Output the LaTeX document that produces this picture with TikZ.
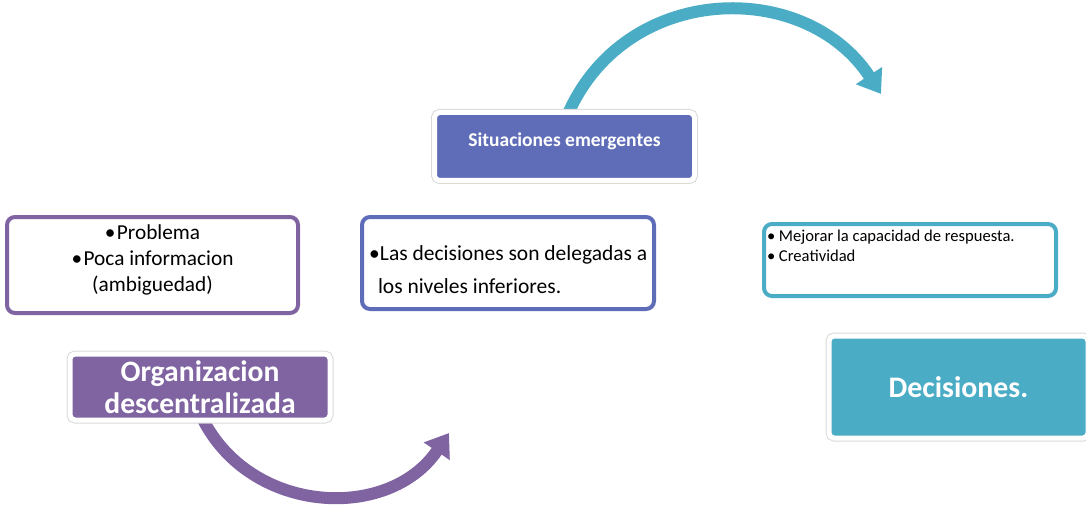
\documentclass[tikz,border=0pt]{standalone}
\usepackage{fontspec}
\setmainfont{Carlito}
\usetikzlibrary{arrows.meta,backgrounds}
\definecolor{cpurple}{HTML}{8064A2}
\definecolor{cblue}{HTML}{5F6DB8}
\definecolor{cteal}{HTML}{4BACC6}
\definecolor{crim}{HTML}{D9D9D9}
\begin{document}
\begin{tikzpicture}[x=1pt,y=-1pt,
  fillbox/.style={rounded corners=5pt, draw=white, line width=5pt,
    preaction={draw=crim, line width=7pt}, inner sep=0pt, text=white, align=center},
  linebox/.style={rounded corners=8pt, line width=4pt, fill=white, inner sep=0pt},
  bigarrow/.style={line width=12pt, -{Triangle[width=30pt,length=22pt]}}
]
\useasboundingbox (0,0) rectangle (1086,505);

\node[linebox, draw=cpurple, minimum width=291pt, minimum height=96pt] (prob) at (152.5,265)
  {\parbox[c][90pt][t]{285pt}{\centering\fontsize{21.3}{26}\selectfont\rule{0pt}{19.5pt}•\hspace{1.5pt}Problema\\•\hspace{1.5pt}Poca informacion\\(ambiguedad)}};

\node[linebox, draw=cblue, minimum width=292pt, minimum height=92pt] (dele) at (508,263)
  {\parbox[c][86pt][t]{278pt}{\fontsize{21.5}{33}\selectfont\rule{0pt}{40pt}\mbox{\makebox[11pt][l]{•}Las decisiones son delegadas a}\\\mbox{\hspace*{9pt}los niveles inferiores.}}};

\node[linebox, draw=cteal, minimum width=292pt, minimum height=72pt] (mej) at (910,260)
  {\parbox[c][66pt][t]{286pt}{\fontsize{16.6}{20}\selectfont\rule{0pt}{14.5pt}\mbox{\makebox[12pt][l]{•}Mejorar la capacidad de respuesta.}\\\mbox{\makebox[12pt][l]{•}Creatividad}}};

\node[fillbox, fill=cblue, minimum width=260pt, minimum height=68pt, text height=13pt, text depth=13pt,
  font=\bfseries\fontsize{19.5}{22}\selectfont] (sit) at (564.5,146.5) {Situaciones emergentes};

\node[fillbox, fill=cpurple, minimum width=260pt, minimum height=66pt,
  font=\bfseries\fontsize{29.6}{32}\selectfont] (org) at (200,387) {Organizacion\\descentralizada};

\node[fillbox, fill=cteal, minimum width=259pt, minimum height=102pt,
  font=\bfseries\fontsize{29.8}{30}\selectfont] (dec) at (958.5,387) {Decisiones.};

\coordinate (ptip) at (449,433);
\coordinate (ttip) at (881,94);
\begin{scope}[on background layer]
\draw[bigarrow, cpurple] ([xshift=2pt,yshift=5pt]org.south) .. controls (250,515) and (389,522) .. (ptip);
\draw[bigarrow, cteal] ([xshift=3pt,yshift=-5pt]sit.north) .. controls (625,-18) and (805,-22) .. (ttip);
\end{scope}
\end{tikzpicture}
\end{document}
